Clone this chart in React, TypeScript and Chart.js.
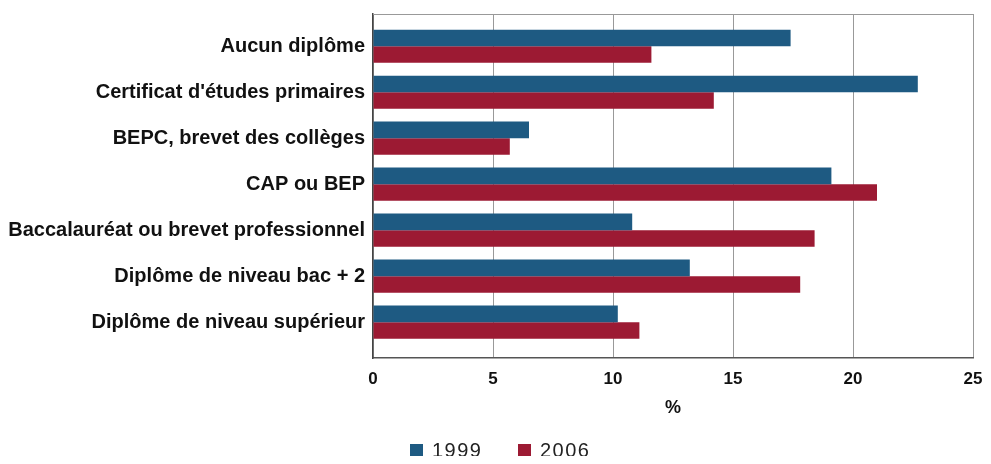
import React, { useEffect, useRef } from "react";
import { Chart, registerables } from "chart.js";

Chart.register(...registerables);

const CATEGORIES = [
  "Aucun diplôme",
  "Certificat d'études primaires",
  "BEPC, brevet des collèges",
  "CAP ou BEP",
  "Baccalauréat ou brevet professionnel",
  "Diplôme de niveau bac + 2",
  "Diplôme de niveau supérieur",
];
const SERIES_NAMES = ["1999", "2006"];
const VALUES_1999 = [17.4, 22.7, 6.5, 19.1, 10.8, 13.2, 10.2];
const VALUES_2006 = [11.6, 14.2, 5.7, 21.0, 18.4, 17.8, 11.1];
const X_TICKS = [0, 5, 10, 15, 20, 25];
const X_TITLE = "%";

const BLUE = "#1e5a82";
const RED = "#9c1a33";
const FONT = "'Liberation Sans', Arial, sans-serif";

const frame = {
  id: "frame",
  afterDatasetsDraw(chart: any) {
    const { ctx, chartArea } = chart;
    ctx.save();
    ctx.strokeStyle = "#999";
    ctx.lineWidth = 1;
    ctx.beginPath();
    ctx.moveTo(chartArea.left, chartArea.top + 0.5);
    ctx.lineTo(chartArea.right, chartArea.top + 0.5);
    ctx.stroke();
    ctx.restore();
  },
};

export default function App() {
  const ref = useRef<HTMLCanvasElement>(null);
  useEffect(() => {
    const chart = new Chart(ref.current!, {
      type: "bar",
      data: {
        datasets: [
          {
            label: SERIES_NAMES[0],
            data: VALUES_1999.map((v, i) => ({ x: v, y: i })),
            backgroundColor: BLUE,
            borderWidth: 0,
          },
          {
            label: SERIES_NAMES[1],
            data: VALUES_2006.map((v, i) => ({ x: v, y: i })),
            backgroundColor: RED,
            borderWidth: 0,
          },
        ],
      },
      options: {
        indexAxis: "y",
        animation: false,
        responsive: false,
        maintainAspectRatio: false,
        layout: { padding: { top: 6, bottom: 37, left: 0, right: 10 } },
        datasets: { bar: { categoryPercentage: 0.72, barPercentage: 1 } },
        plugins: { legend: { display: false }, tooltip: { enabled: false } },
        scales: {
          x: {
            type: "linear",
            min: 0,
            max: 25,
            afterBuildTicks: (s: any) => {
              s.ticks = X_TICKS.map((v) => ({ value: v }));
            },
            afterFit: (s: any) => {
              s.height = 61;
              s.paddingLeft = 0;
              s.paddingRight = 0;
            },
            grid: { color: "#999", lineWidth: 1, drawTicks: false },
            border: { display: true, color: "#555", width: 1.5 },
            ticks: {
              padding: 11,
              color: "#111",
              font: { family: FONT, size: 17, weight: "bold" },
            },
            title: {
              display: true,
              text: X_TITLE,
              color: "#111",
              padding: { top: 0, bottom: 0 },
              font: { family: FONT, size: 18, weight: "bold" },
            },
          },
          y: {
            type: "linear",
            reverse: true,
            offset: false,
            min: -0.7,
            max: 6.78,
            afterBuildTicks: (s: any) => {
              s.ticks = CATEGORIES.map((_, i) => ({ value: i }));
            },
            afterFit: (s: any) => {
              s.width = 365;
              s.paddingTop = 0;
              s.paddingBottom = 0;
            },
            grid: { display: false, drawTicks: false },
            border: { display: true, color: "#444", width: 1.5 },
            ticks: {
              padding: 8,
              autoSkip: false,
              color: "#111",
              font: { family: FONT, size: 20, weight: "bold" },
              callback: (v: any) => CATEGORIES[v] ?? "",
            },
          },
        },
      },
      plugins: [frame],
    } as any);
    return () => chart.destroy();
  }, []);

  const legendText: React.CSSProperties = {
    fontFamily: FONT,
    fontSize: 20,
    color: "#222",
    lineHeight: "20px",
    letterSpacing: "1.5px",
  };
  const sq = (c: string): React.CSSProperties => ({
    width: 13,
    height: 13,
    background: c,
    marginRight: 9,
  });

  return (
    <div style={{ position: "relative", width: 975, height: 448 }}>
      <canvas ref={ref} width={975} height={448} style={{ display: "block" }} />
      <div style={{ position: "absolute", left: 402, top: 432, height: 20, display: "flex", alignItems: "center" }}>
        <div style={sq(BLUE)} />
        <span style={legendText}>{SERIES_NAMES[0]}</span>
      </div>
      <div style={{ position: "absolute", left: 510, top: 432, height: 20, display: "flex", alignItems: "center" }}>
        <div style={sq(RED)} />
        <span style={legendText}>{SERIES_NAMES[1]}</span>
      </div>
    </div>
  );
}
